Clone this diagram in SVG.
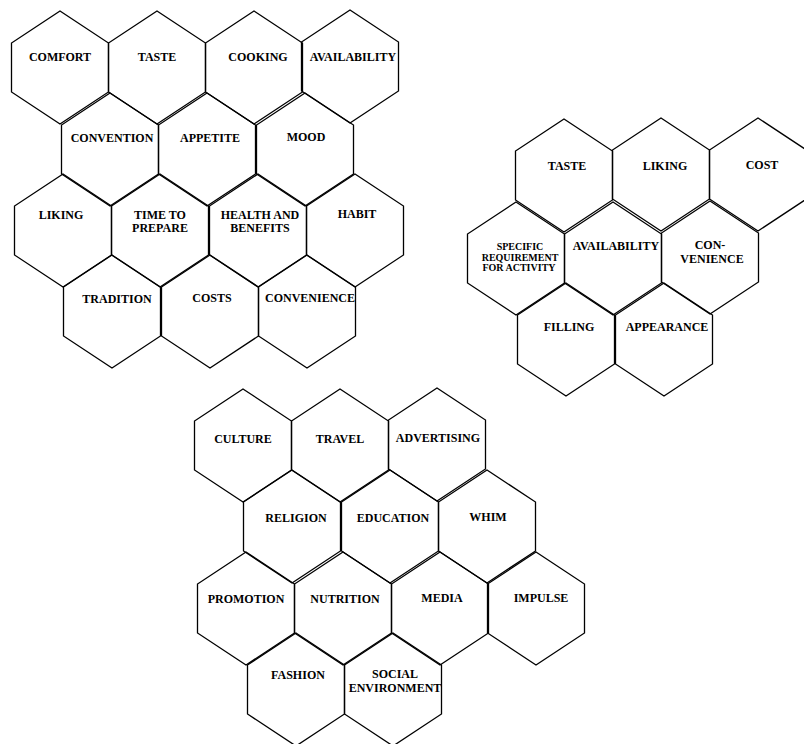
<svg xmlns="http://www.w3.org/2000/svg" xmlns:xlink="http://www.w3.org/1999/xlink" width="804" height="744" viewBox="0 0 804 744">
<style>
.hex{fill:none;stroke:#000;stroke-width:1.3;stroke-linejoin:miter}
text{font-family:"Liberation Serif","Times New Roman",serif;font-weight:bold;font-size:12px;text-anchor:middle;fill:#000}
.sm{font-size:10px}
</style>
<defs>
<polygon id="hx" class="hex" points="0,0 48.5,32 48.5,81 0,113 -48.5,81 -48.5,32"/>
</defs>
<rect width="804" height="744" fill="#fff"/>
<g id="cluster-1">
<g id="comfort"><use href="#hx" x="60" y="11"/><text x="60" y="61">COMFORT</text></g>
<g id="taste-1"><use href="#hx" x="157" y="11"/><text x="157" y="61">TASTE</text></g>
<g id="cooking"><use href="#hx" x="254" y="11"/><text x="258" y="61">COOKING</text></g>
<g id="availability-1"><use href="#hx" x="350" y="10"/><text x="353" y="61">AVAILABILITY</text></g>
<g id="convention"><use href="#hx" x="110" y="93"/><text x="112" y="142">CONVENTION</text></g>
<g id="appetite"><use href="#hx" x="207" y="93"/><text x="210" y="142">APPETITE</text></g>
<g id="mood"><use href="#hx" x="305" y="93"/><text x="306" y="141">MOOD</text></g>
<g id="liking-1"><use href="#hx" x="63" y="174"/><text x="61" y="219">LIKING</text></g>
<g id="time-to-prepare"><use href="#hx" x="160" y="174"/><text x="160" y="219">TIME TO</text><text x="160" y="232">PREPARE</text></g>
<g id="health-and-benefits"><use href="#hx" x="258" y="174"/><text x="260" y="219">HEALTH AND</text><text x="260" y="232">BENEFITS</text></g>
<g id="habit"><use href="#hx" x="355" y="174"/><text x="357" y="218">HABIT</text></g>
<g id="tradition"><use href="#hx" x="112" y="255"/><text x="117" y="303">TRADITION</text></g>
<g id="costs"><use href="#hx" x="210" y="255"/><text x="212" y="302">COSTS</text></g>
<g id="convenience-1"><use href="#hx" x="307" y="255"/><text x="310" y="302">CONVENIENCE</text></g>
</g>
<g id="cluster-2">
<g id="taste-2"><use href="#hx" x="564" y="119"/><text x="567" y="170">TASTE</text></g>
<g id="liking-2"><use href="#hx" x="661" y="118"/><text x="665" y="170">LIKING</text></g>
<g id="cost"><use href="#hx" x="758" y="118"/><text x="762" y="169">COST</text></g>
<g id="specific-requirement"><use href="#hx" x="516" y="202"/><text class="sm" x="520" y="250">SPECIFIC</text><text class="sm" x="520" y="260.5">REQUIREMENT</text><text class="sm" x="519" y="271">FOR ACTIVITY</text></g>
<g id="availability-2"><use href="#hx" x="613" y="202"/><text x="616" y="250">AVAILABILITY</text></g>
<g id="convenience-2"><use href="#hx" x="710" y="201"/><text x="710" y="249">CON-</text><text x="712" y="263">VENIENCE</text></g>
<g id="filling"><use href="#hx" x="566" y="283"/><text x="569" y="331">FILLING</text></g>
<g id="appearance"><use href="#hx" x="664" y="283"/><text x="667" y="331">APPEARANCE</text></g>
</g>
<g id="cluster-3">
<g id="culture"><use href="#hx" x="243" y="389"/><text x="243" y="443">CULTURE</text></g>
<g id="travel"><use href="#hx" x="340" y="389"/><text x="340" y="443">TRAVEL</text></g>
<g id="advertising"><use href="#hx" x="437" y="388"/><text x="438" y="442">ADVERTISING</text></g>
<g id="religion"><use href="#hx" x="292" y="470"/><text x="296" y="522">RELIGION</text></g>
<g id="education"><use href="#hx" x="390" y="470"/><text x="393" y="522">EDUCATION</text></g>
<g id="whim"><use href="#hx" x="487" y="470"/><text x="488" y="521">WHIM</text></g>
<g id="promotion"><use href="#hx" x="246" y="552"/><text x="246" y="603">PROMOTION</text></g>
<g id="nutrition"><use href="#hx" x="343" y="552"/><text x="345" y="603">NUTRITION</text></g>
<g id="media"><use href="#hx" x="440" y="552"/><text x="442" y="602">MEDIA</text></g>
<g id="impulse"><use href="#hx" x="536" y="552"/><text x="541" y="602">IMPULSE</text></g>
<g id="fashion"><use href="#hx" x="296" y="633"/><text x="298" y="679">FASHION</text></g>
<g id="social-environment"><use href="#hx" x="393" y="633"/><text x="395" y="678">SOCIAL</text><text x="395" y="692">ENVIRONMENT</text></g>
</g>
</svg>
